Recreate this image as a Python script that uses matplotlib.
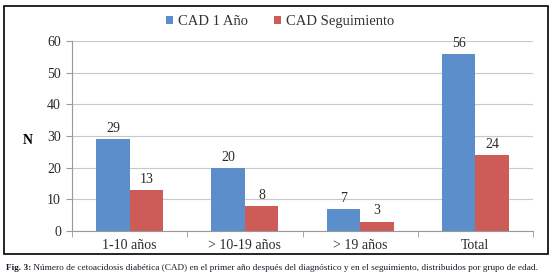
import numpy as np
import matplotlib.pyplot as plt
from matplotlib.patches import Rectangle

plt.rcParams['font.family'] = ['Liberation Serif', 'DejaVu Serif']

# data
categories = ['1-10 años', '> 10-19 años', '> 19 años', 'Total']
cad_1_ano = [29, 20, 7, 56]
cad_seguimiento = [13, 8, 3, 24]
series_names = ['CAD 1 Año', 'CAD Seguimiento']
caption_bold = 'Fig. 3:'
caption_text = (' Número de cetoacidosis diabética (CAD) en el primer año después del diagnóstico '
                'y en el seguimiento, distribuidos por grupo de edad.')

blue = '#5B8ECB'
red = '#CD5B57'
grid_col = '#C8C8C8'
txt_col = '#2a2a2a'

W, H = 557, 276
fig = plt.figure(figsize=(W / 100, H / 100), dpi=100)
fig.patch.set_facecolor('white')

# outer frame
fig.patches.append(Rectangle((4 / W, 1 - 254 / H), 544 / W, 248 / H, transform=fig.transFigure,
                             fill=False, edgecolor='black', linewidth=1.2))

ax = fig.add_axes([72 / W, 1 - 231 / H, 461 / W, 190 / H])
x = np.arange(len(categories))
w = 0.29
b1 = ax.bar(x - w / 2, cad_1_ano, w, color=blue, label=series_names[0], zorder=3)
b2 = ax.bar(x + w / 2, cad_seguimiento, w, color=red, label=series_names[1], zorder=3)

for bars, vals in [(b1, cad_1_ano), (b2, cad_seguimiento)]:
    for rect, v in zip(bars, vals):
        ax.text(rect.get_x() + rect.get_width() / 2, v + 1.3, str(v),
                ha='center', va='bottom', fontsize=10, color=txt_col)

ax.set_xlim(-0.5, len(categories) - 0.5)
ax.set_ylim(0, 60)
ax.set_yticks(range(0, 61, 10))
ax.set_xticks(x)
ax.set_xticklabels(categories, fontsize=10, color=txt_col)
ax.set_xticks(np.arange(-0.5, len(categories), 1), minor=True)
ax.tick_params(axis='x', which='major', length=0, pad=6)
ax.tick_params(axis='x', which='minor', length=4, color='#999999', direction='out')
ax.tick_params(axis='y', length=4, color='#999999', labelsize=10, labelcolor=txt_col, pad=4)
ax.yaxis.grid(True, color=grid_col, linewidth=0.8, zorder=0)
for s in ['top', 'right']:
    ax.spines[s].set_visible(False)
for s in ['left', 'bottom']:
    ax.spines[s].set_color('#999999')
    ax.spines[s].set_linewidth(0.8)

fig.text(28 / W, 1 - 140 / H, 'N', fontsize=10, fontweight='bold', ha='center', va='center')

fig.legend(handles=[b1, b2], loc='center', bbox_to_anchor=(280 / W, 1 - 22 / H), ncol=2,
           frameon=False, fontsize=10.5, handlelength=0.5, handleheight=0.5,
           handletextpad=0.3, columnspacing=1.8, labelcolor='#333333')

# caption
t = fig.text(6 / W, 1 - 268 / H, caption_bold, fontsize=6.7, fontweight='bold',
             ha='left', va='center', color='#1a1a2a')
fig.canvas.draw()
bb = t.get_window_extent()
fig.text(bb.x1 / W, 1 - 268 / H, caption_text, fontsize=6.7, ha='left', va='center',
         color='#1a1a2a')

plt.savefig('out.png', dpi=100)
